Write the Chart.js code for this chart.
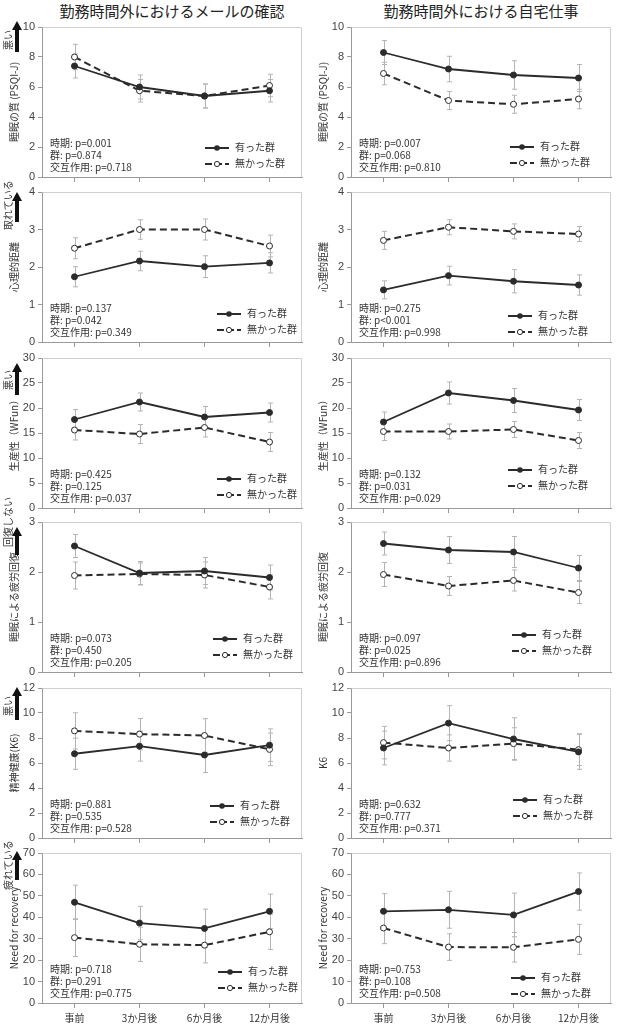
<!DOCTYPE html>
<html lang="ja">
<head>
<meta charset="utf-8">
<script src="https://cdn.jsdelivr.net/npm/chart.js@4.4.0/dist/chart.umd.min.js"></script>
<style>
  html, body { margin: 0; padding: 0; background: #fff; }
  body { width: 618px; height: 1032px; position: relative; overflow: hidden;
         font-family: "Noto Sans CJK JP", "Noto Sans", sans-serif; color: #333; }
  canvas { position: absolute; }
  .title { position: absolute; top: 1px; width: 260px; text-align: center; font-size: 15px; line-height: 20px; color: #222; }
  .stats { position: absolute; font-size: 10px; line-height: 12px; white-space: nowrap; color: #333; }
  .leg { position: absolute; font-size: 10px; line-height: 12px; height: 12px; white-space: nowrap; color: #333; }
  .leg svg { vertical-align: middle; margin-right: 6px; }
  .shaft { position: absolute; width: 4px; background: #111; }
  .head { position: absolute; width: 0; height: 0; border-left: 5px solid transparent; border-right: 5px solid transparent; border-bottom: 9px solid #111; }
  .rot { position: absolute; font-size: 10px; line-height: 11px; white-space: nowrap; transform-origin: top left; transform: rotate(-90deg); color: #333; }
</style>
</head>
<body>
<script>
// 時点
const timepoints = ['事前', '3か月後', '6か月後', '12か月後']
const groupLabels = ['有った群', '無かった群']
const columnTitles = ['勤務時間外におけるメールの確認', '勤務時間外における自宅仕事']

// 行ごとの指標: 睡眠の質, 心理的距離, 生産性, 疲労回復, K6, Need for recovery
const yMax = [10, 4, 30, 3, 12, 70]
const yStep = [2, 1, 5, 1, 2, 10]
const mailYTitles = ['睡眠の質 (PSQI-J)', '心理的距離', '生産性（WFun）', '睡眠による疲労回復', '精神健康(K6)', 'Need for recovery']
const homeYTitles = ['睡眠の質 (PSQI-J)', '心理的距離', '生産性（WFun）', '睡眠による疲労回復', 'K6', 'Need for recovery']
const arrowTexts = ['悪い', '取れている', '悪い', '回復しない', '悪い', '疲れている']

// メールの確認 (左列)
const mailYesMean = [
  [7.4, 6.0, 5.4, 5.75],
  [1.74, 2.16, 2.01, 2.11],
  [17.7, 21.2, 18.2, 19.1],
  [2.52, 1.98, 2.02, 1.89],
  [6.74, 7.35, 6.64, 7.43],
  [47.0, 37.3, 34.8, 42.8],
]
const mailYesSd = [
  [0.8, 0.8, 0.8, 0.75],
  [0.27, 0.26, 0.29, 0.27],
  [2.0, 1.8, 2.1, 1.9],
  [0.23, 0.23, 0.27, 0.25],
  [1.25, 1.2, 1.4, 1.3],
  [8.0, 7.8, 9.0, 8.0],
]
const mailNoMean = [
  [8.0, 5.75, 5.4, 6.1],
  [2.5, 3.0, 3.0, 2.56],
  [15.6, 14.8, 16.1, 13.2],
  [1.93, 1.96, 1.94, 1.70],
  [8.57, 8.31, 8.2, 7.09],
  [30.5, 27.4, 27.0, 33.2],
]
const mailNoSd = [
  [0.85, 0.75, 0.8, 0.75],
  [0.28, 0.26, 0.28, 0.29],
  [2.0, 1.9, 1.9, 1.9],
  [0.27, 0.22, 0.26, 0.24],
  [1.45, 1.25, 1.35, 1.3],
  [8.8, 8.0, 8.3, 8.2],
]

// 自宅仕事 (右列)
const homeYesMean = [
  [8.3, 7.2, 6.8, 6.6],
  [1.39, 1.77, 1.62, 1.52],
  [17.2, 23.0, 21.5, 19.6],
  [2.57, 2.44, 2.40, 2.08],
  [7.2, 9.19, 7.92, 6.89],
  [42.8, 43.5, 41.1, 52.0],
]
const homeYesSd = [
  [0.8, 0.85, 0.95, 0.9],
  [0.24, 0.25, 0.31, 0.27],
  [2.0, 2.2, 2.4, 2.1],
  [0.23, 0.27, 0.31, 0.25],
  [1.35, 1.4, 1.7, 1.4],
  [8.2, 8.6, 10.2, 8.7],
]
const homeNoMean = [
  [6.9, 5.1, 4.85, 5.2],
  [2.71, 3.06, 2.95, 2.88],
  [15.3, 15.3, 15.7, 13.5],
  [1.95, 1.72, 1.83, 1.59],
  [7.63, 7.2, 7.55, 7.07],
  [35.0, 26.1, 26.0, 29.7],
]
const homeNoSd = [
  [0.75, 0.6, 0.6, 0.65],
  [0.24, 0.2, 0.2, 0.2],
  [1.8, 1.5, 1.6, 1.6],
  [0.24, 0.19, 0.21, 0.22],
  [1.3, 1.05, 1.27, 1.27],
  [7.3, 6.2, 6.9, 7.0],
]

// 統計 (時期, 群, 交互作用)
const mailTimeP = ['p=0.001', 'p=0.137', 'p=0.425', 'p=0.073', 'p=0.881', 'p=0.718']
const mailGroupP = ['p=0.874', 'p=0.042', 'p=0.125', 'p=0.450', 'p=0.535', 'p=0.291']
const mailInterP = ['p=0.718', 'p=0.349', 'p=0.037', 'p=0.205', 'p=0.528', 'p=0.775']
const homeTimeP = ['p=0.007', 'p=0.275', 'p=0.132', 'p=0.097', 'p=0.632', 'p=0.753']
const homeGroupP = ['p=0.068', 'p<0.001', 'p=0.031', 'p=0.025', 'p=0.777', 'p=0.108']
const homeInterP = ['p=0.810', 'p=0.998', 'p=0.029', 'p=0.896', 'p=0.371', 'p=0.508']

// レイアウト
const plotTops = [27, 192, 358, 522, 688, 853]
const plotH = 150
const colLeft = [0, 309]
const legendX = [[205, 217, 217, 213, 210, 218], [510, 508, 508, 512, 513, 511]]
const legendDy = [[-30, -29, -30, -34, -33, -32], [-31, -27, -39, -38, -39, -26]]
const arrowTop = [21, 192, 363, 527, 687, 851]
const arrowBottom = [52, 222, 395, 555, 720, 880]
const arrowTextBottom = [50, 230, 390, 547, 716, 890]

const lineColor = '#2b2b2b'
Chart.defaults.font.family = "'Noto Sans CJK JP', 'Noto Sans', sans-serif"

const errorBars = {
	id: 'errorBars',
	beforeDatasetsDraw(chart) {
		const { ctx, scales: { x, y } } = chart
		ctx.save()
		ctx.strokeStyle = '#b4b4b4'
		ctx.lineWidth = 1
		chart.data.datasets.forEach(ds => {
			ds.data.forEach((v, i) => {
				const px = Math.round(x.getPixelForValue(i)) + 0.5
				const top = y.getPixelForValue(v + ds.errors[i])
				const bot = y.getPixelForValue(v - ds.errors[i])
				ctx.beginPath()
				ctx.moveTo(px, top); ctx.lineTo(px, bot)
				ctx.moveTo(px - 2.5, top); ctx.lineTo(px + 2.5, top)
				ctx.moveTo(px - 2.5, bot); ctx.lineTo(px + 2.5, bot)
				ctx.stroke()
			})
		})
		ctx.restore()
	},
}

const frame = {
	id: 'frame',
	beforeDatasetsDraw(chart) {
		const { ctx, chartArea: a } = chart
		ctx.save()
		ctx.strokeStyle = '#cfcfcf'
		ctx.lineWidth = 1
		ctx.beginPath()
		ctx.moveTo(Math.round(a.left) + 0.5, Math.round(a.top) + 0.5)
		ctx.lineTo(Math.round(a.right) - 0.5, Math.round(a.top) + 0.5)
		ctx.lineTo(Math.round(a.right) - 0.5, Math.round(a.bottom))
		ctx.stroke()
		ctx.restore()
	},
}

const addDiv = (cls, html, left, top) => {
	const d = document.createElement('div')
	d.className = cls
	d.innerHTML = html
	d.style.left = left + 'px'
	d.style.top = top + 'px'
	document.body.appendChild(d)
	return d
}

const solidSample = `<svg width="24" height="8"><line x1="0" y1="4" x2="24" y2="4" stroke="${lineColor}" stroke-width="2"/><circle cx="12" cy="4" r="2.8" fill="${lineColor}"/></svg>`
const dashSample = `<svg width="24" height="8"><line x1="0" y1="4" x2="24" y2="4" stroke="${lineColor}" stroke-width="2" stroke-dasharray="7 3"/><circle cx="12" cy="4" r="2.6" fill="#fff" stroke="${lineColor}" stroke-width="1"/></svg>`

const columns = [
	{ yesMean: mailYesMean, yesSd: mailYesSd, noMean: mailNoMean, noSd: mailNoSd, titles: mailYTitles, tp: mailTimeP, gp: mailGroupP, ip: mailInterP },
	{ yesMean: homeYesMean, yesSd: homeYesSd, noMean: homeNoMean, noSd: homeNoSd, titles: homeYTitles, tp: homeTimeP, gp: homeGroupP, ip: homeInterP },
]

columns.forEach((col, c) => {
	const left0 = colLeft[c]
	const t = addDiv('title', columnTitles[c], left0 + 42, 1)

	for (let r = 0; r < 6; r++) {
		const last = r === 5
		const xh = last ? 22 : 5
		const padBottom = last ? 0 : 6
		const canvas = document.createElement('canvas')
		canvas.width = 309
		canvas.height = 10 + plotH + xh + padBottom
		canvas.style.left = left0 + 'px'
		canvas.style.top = plotTops[r] - 10 + 'px'
		document.body.appendChild(canvas)

		new Chart(canvas, {
			type: 'line',
			data: {
				labels: timepoints,
				datasets: [
					{
						label: groupLabels[0],
						data: col.yesMean[r],
						errors: col.yesSd[r],
						borderColor: lineColor,
						backgroundColor: lineColor,
						borderWidth: 1.8,
						pointRadius: 3,
						pointBackgroundColor: lineColor,
						pointBorderColor: lineColor,
						pointBorderWidth: 1,
					},
					{
						label: groupLabels[1],
						data: col.noMean[r],
						errors: col.noSd[r],
						borderColor: lineColor,
						backgroundColor: '#fff',
						borderWidth: 2,
						borderDash: [7, 4],
						pointRadius: 3,
						pointBackgroundColor: '#fff',
						pointBorderColor: lineColor,
						pointBorderWidth: 1,
					},
				],
			},
			options: {
				responsive: false,
				animation: false,
				layout: { padding: { top: 10, right: 7, left: 0, bottom: padBottom } },
				plugins: { legend: { display: false }, tooltip: { enabled: false } },
				scales: {
					x: {
						offset: true,
						grid: { display: true, drawOnChartArea: false, drawTicks: true, tickLength: 5, color: '#999' },
						border: { color: '#999' },
						ticks: { display: last, padding: 4, color: '#333', font: { size: 10 } },
						afterFit: s => { s.height = xh },
					},
					y: {
						min: 0,
						max: yMax[r],
						ticks: { stepSize: yStep[r], padding: 3, color: '#444', font: { family: "'Liberation Sans', Arial, sans-serif", size: 11 } },
						grid: { display: true, drawOnChartArea: false, tickLength: 4, color: '#999' },
						border: { color: '#999' },
						title: { display: true, text: col.titles[r], padding: { top: 8, bottom: 0 }, color: '#333', font: { size: 10 } },
						afterFit: s => { s.width = 42 },
					},
				},
			},
			plugins: [frame, errorBars],
		})

		const plotBottom = plotTops[r] + plotH
		addDiv('stats', `時期: ${col.tp[r]}<br>群: ${col.gp[r]}<br>交互作用: ${col.ip[r]}`, left0 + 50, plotBottom - 40)
		addDiv('leg', solidSample + groupLabels[0], legendX[c][r], plotBottom + legendDy[c][r] - 6)
		addDiv('leg', dashSample + groupLabels[1], legendX[c][r], plotBottom + legendDy[c][r] + 10)

		if (c === 0) {
			const h = addDiv('head', '', 12, arrowTop[r])
			const s = addDiv('shaft', '', 15, arrowTop[r] + 8)
			s.style.height = arrowBottom[r] - arrowTop[r] - 8 + 'px'
			addDiv('rot', arrowTexts[r], 2, arrowTextBottom[r])
		}
	}
})
</script>
</body>
</html>
